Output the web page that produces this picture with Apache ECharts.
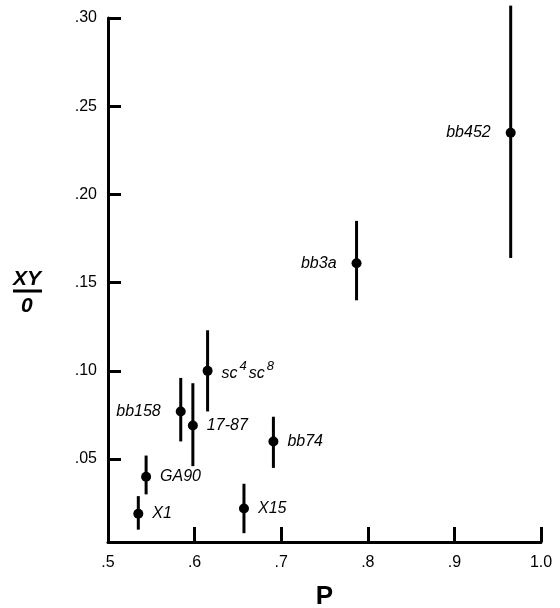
<!DOCTYPE html>
<html>
<head>
<meta charset="utf-8">
<script src="https://cdn.jsdelivr.net/npm/echarts@6/dist/echarts.min.js"></script>
<style>
  html, body { margin: 0; padding: 0; background: #fff; }
  #chart { width: 560px; height: 608px; }
</style>
</head>
<body>
<div id="chart"></div>
<script>
const strainNames = ['X1', 'GA90', 'bb158', '17-87', 'sc4sc8', 'bb74', 'X15', 'bb3a', 'bb452'];
const pValues = [0.535, 0.544, 0.584, 0.598, 0.615, 0.691, 0.657, 0.787, 0.965];
const ratioValues = [0.019, 0.040, 0.077, 0.069, 0.100, 0.060, 0.022, 0.161, 0.235];
const ratioLow = [0.010, 0.030, 0.060, 0.046, 0.077, 0.045, 0.008, 0.140, 0.164];
const ratioHigh = [0.029, 0.052, 0.096, 0.093, 0.123, 0.074, 0.036, 0.185, 0.307];

// tick positions / labels
const xTicks = [0.5, 0.6, 0.7, 0.8, 0.9, 1.0];
const xTickLabels = ['.5', '.6', '.7', '.8', '.9', '1.0'];
const yTicks = [0.05, 0.10, 0.15, 0.20, 0.25, 0.30];
const yTickLabels = ['.05', '.10', '.15', '.20', '.25', '.30'];

// names whose label sits left of the point
const leftLabelled = ['bb452', 'bb3a', 'bb158'];

const font = 'Liberation Sans, Arial, Helvetica, sans-serif';

function tickLabel(ticks, labels) {
  return function (v) {
    for (let i = 0; i < ticks.length; i++) {
      if (Math.abs(ticks[i] - v) < 1e-6) return labels[i];
    }
    return '';
  };
}

const pointData = strainNames.map(function (name, i) {
  const left = leftLabelled.indexOf(name) >= 0;
  return {
    name: name,
    value: [pValues[i], ratioValues[i]],
    label: {
      position: left ? 'left' : 'right',
      distance: left ? 15 : 9
    }
  };
});

const barData = strainNames.map(function (name, i) {
  return [pValues[i], ratioLow[i], ratioHigh[i]];
});

const chart = echarts.init(document.getElementById('chart'));
chart.setOption({
  animation: false,
  textStyle: { fontFamily: font },
  grid: { left: 108, right: 19, top: 18, bottom: 66, outerBoundsMode: 'none', containLabel: false },
  xAxis: {
    type: 'value',
    min: 0.5,
    max: 1.0,
    name: 'P',
    nameLocation: 'middle',
    nameGap: 42,
    nameTextStyle: { fontSize: 26, fontWeight: 'bold', color: '#000', fontFamily: font },
    axisLine: { lineStyle: { color: '#000', width: 3 } },
    axisTick: { inside: true, length: 15, lineStyle: { color: '#000', width: 3 }, customValues: xTicks },
    axisLabel: {
      customValues: xTicks,
      formatter: tickLabel(xTicks, xTickLabels),
      color: '#000', fontSize: 16, margin: 13, fontFamily: font
    },
    splitLine: { show: false }
  },
  yAxis: {
    type: 'value',
    min: 0.003,
    max: 0.30,
    axisLine: { lineStyle: { color: '#000', width: 3 } },
    axisTick: { inside: true, length: 13, lineStyle: { color: '#000', width: 3 }, customValues: yTicks },
    axisLabel: {
      customValues: yTicks,
      formatter: tickLabel(yTicks, yTickLabels),
      color: '#000', fontSize: 16, margin: 11, fontFamily: font
    },
    splitLine: { show: false }
  },
  graphic: [
    { type: 'text', left: 13, top: 269, style: { text: 'XY', font: 'italic bold 21px ' + font, fill: '#000' } },
    { type: 'line', shape: { x1: 13, y1: 291, x2: 42, y2: 291 }, style: { stroke: '#000', lineWidth: 3 } },
    { type: 'text', left: 21, top: 296, style: { text: '0', font: 'italic bold 21px ' + font, fill: '#000' } }
  ],
  series: [
    {
      type: 'custom',
      clip: false,
      data: barData,
      renderItem: function (params, api) {
        const a = api.coord([api.value(0), api.value(1)]);
        const b = api.coord([api.value(0), api.value(2)]);
        return {
          type: 'line',
          shape: { x1: a[0], y1: a[1], x2: b[0], y2: b[1] },
          style: { stroke: '#000', lineWidth: 3 }
        };
      },
      z: 2
    },
    {
      type: 'scatter',
      symbol: 'circle',
      symbolSize: 10,
      itemStyle: { color: '#000', opacity: 1 },
      data: pointData,
      z: 3,
      label: {
        show: true,
        color: '#000',
        fontSize: 16,
        fontStyle: 'italic',
        fontFamily: font,
        formatter: function (p) {
          if (p.name === 'sc4sc8') return '{t|sc}{s|4}{t|sc}{s|8}';
          return p.name;
        },
        rich: {
          t: { fontSize: 16, fontStyle: 'italic', fontFamily: font, color: '#000', lineHeight: 22, verticalAlign: 'bottom' },
          s: { fontSize: 13, fontStyle: 'italic', fontFamily: font, color: '#000', lineHeight: 22, verticalAlign: 'top', padding: [0, 2, 0, 2] }
        }
      }
    }
  ]
});
</script>
</body>
</html>
